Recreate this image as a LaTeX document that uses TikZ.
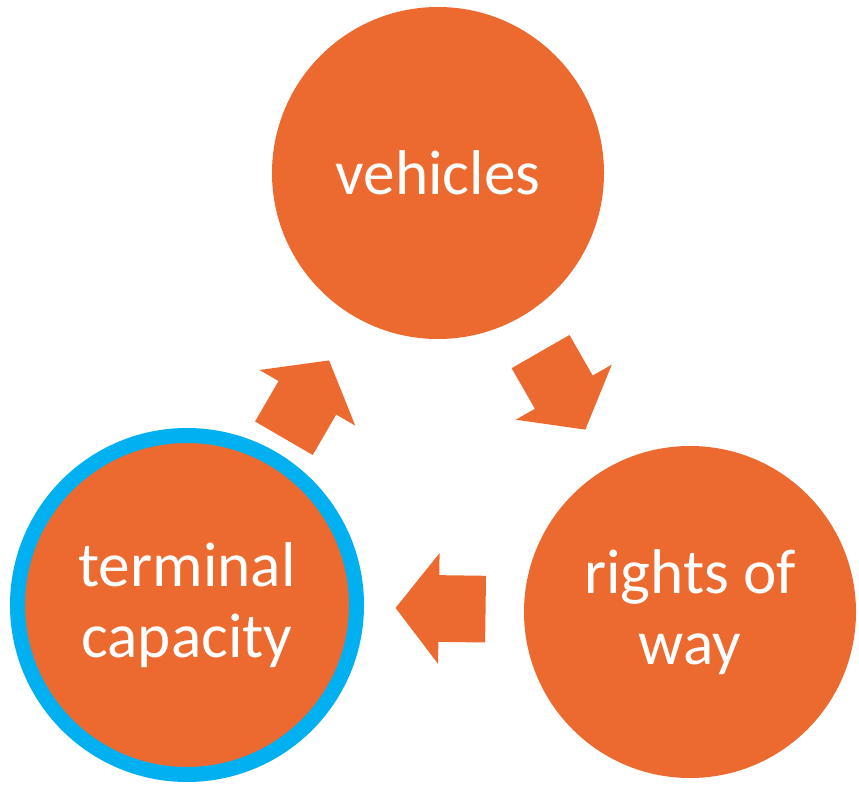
\documentclass[tikz,border=0pt]{standalone}
\usepackage{fontspec}
\setmainfont{Carlito}
\usetikzlibrary{arrows.meta, positioning, shapes, calc}
\definecolor{cycleorange}{RGB}{236,106,47}
\definecolor{ringblue}{RGB}{0,176,240}

\begin{document}
\begin{tikzpicture}[
    bubble/.style={circle, fill=cycleorange, inner sep=0pt, minimum size=6.64cm, align=center, text=white, font=\fontsize{36}{40}\selectfont},
    ringed/.style={bubble, draw=ringblue, line width=0.3cm, minimum size=6.78cm},
    blockarrow/.style={single arrow, fill=cycleorange, inner xsep=0pt, inner ysep=0.66cm, minimum height=1.8cm, single arrow head extend=0.44cm, single arrow tip angle=104, sloped, allow upside down}
]
    \useasboundingbox (0,0) rectangle (17.18,15.7);

    % Circles
    \node[bubble] (vehicles) at (8.76,12.24) {vehicles};
    \node[bubble] (rights) at (13.8,3.46) {rights of\\way};
    \node[ringed] (terminal) at (3.74,3.6) {terminal\\capacity};

    % Arrows
    \path (terminal.center) -- node[blockarrow, pos=0.45] {} (vehicles.center);
    \path (vehicles.center) -- node[blockarrow, pos=0.47] {} (rights.center);
    \path (rights.center) -- node[blockarrow, pos=0.47] {} (terminal.center);

\end{tikzpicture}
\end{document}
